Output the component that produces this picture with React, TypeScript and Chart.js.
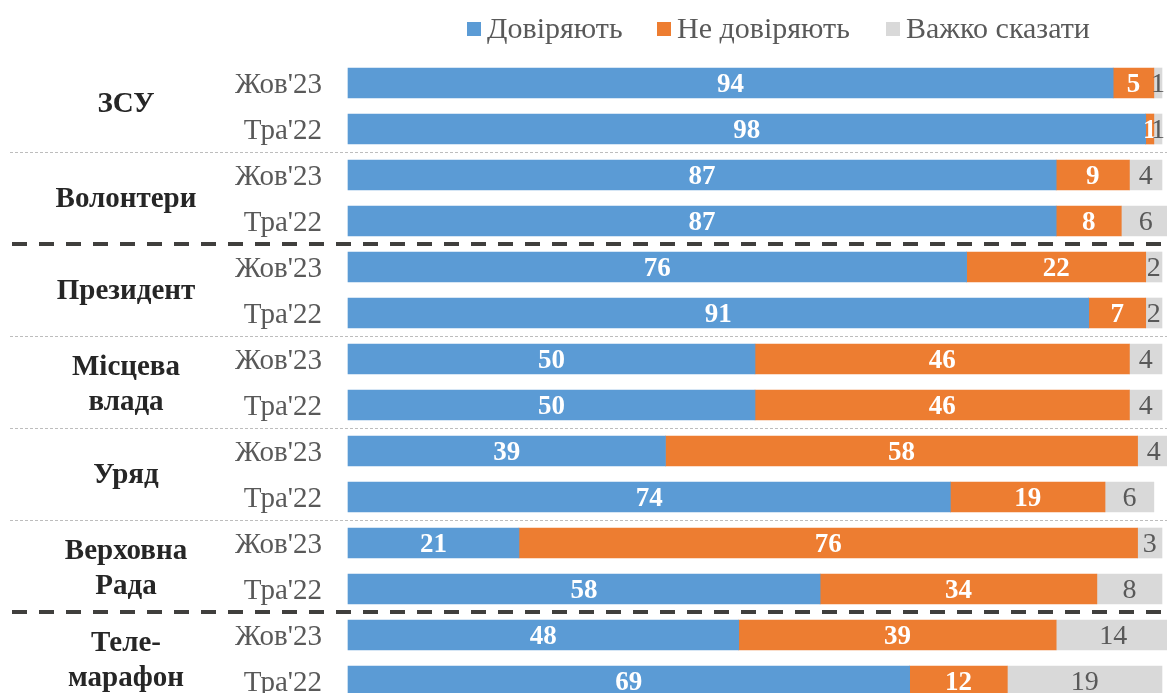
import React, { useEffect, useRef } from "react";
import { Chart, registerables } from "chart.js";

Chart.register(...registerables);

const groups = ["ЗСУ", "Волонтери", "Президент", "Місцева\nвлада", "Уряд", "Верховна\nРада", "Теле-\nмарафон"];
const waves = ["Жов'23", "Тра'22"];
const rowLabels = groups.flatMap((g) => waves.map((w) => `${g.replace("\n", " ")} ${w}`));

const trust = [94, 98, 87, 87, 76, 91, 50, 50, 39, 74, 21, 58, 48, 69];
const distrust = [5, 1, 9, 8, 22, 7, 46, 46, 58, 19, 76, 34, 39, 12];
const hardToSay = [1, 1, 4, 6, 2, 2, 4, 4, 4, 6, 3, 8, 14, 19];

const seriesNames = ["Довіряють", "Не довіряють", "Важко сказати"];
const seriesColors = ["#5B9BD5", "#ED7D31", "#D9D9D9"];
const labelColors = ["#ffffff", "#ffffff", "#595959"];

// group boundaries after these group indices: thick dashed vs thin dotted
const thickAfter = [1, 5];

const SERIF = "'Liberation Serif', 'Times New Roman', serif";

const overlayPlugin = {
  id: "overlay",
  beforeDatasetsDraw(chart: any) {
    const { ctx, scales } = chart;
    const y = scales.y;
    ctx.save();
    for (let g = 0; g < groups.length - 1; g++) {
      const a = y.getPixelForValue(g * 2 + 1);
      const b = y.getPixelForValue(g * 2 + 2);
      const yy = (a + b) / 2;
      ctx.beginPath();
      if (thickAfter.includes(g)) {
        ctx.setLineDash([15, 12]);
        ctx.lineWidth = 4;
        ctx.strokeStyle = "#403f3d";
        ctx.moveTo(12, yy);
        ctx.lineTo(chart.width, yy);
      } else {
        ctx.setLineDash([3, 2]);
        ctx.lineWidth = 1;
        ctx.strokeStyle = "#bdbdbd";
        ctx.moveTo(10, yy + 0.5);
        ctx.lineTo(chart.width, yy + 0.5);
      }
      ctx.stroke();
    }
    ctx.restore();
  },
  afterDatasetsDraw(chart: any) {
    const { ctx, scales } = chart;
    const y = scales.y;
    ctx.save();
    // data labels
    chart.data.datasets.forEach((ds: any, di: number) => {
      const meta = chart.getDatasetMeta(di);
      meta.data.forEach((el: any, i: number) => {
        const v = ds.data[i];
        const cx = (el.x + el.base) / 2;
        ctx.font = di < 2 ? `bold 27px ${SERIF}` : `28px ${SERIF}`;
        ctx.fillStyle = labelColors[di];
        ctx.textAlign = "center";
        ctx.textBaseline = "middle";
        ctx.fillText(String(v), cx, el.y + 2);
      });
    });
    // wave labels
    ctx.font = `29px ${SERIF}`;
    ctx.fillStyle = "#595959";
    ctx.textAlign = "right";
    ctx.textBaseline = "middle";
    for (let i = 0; i < rowLabels.length; i++) {
      ctx.fillText(waves[i % 2], 322, y.getPixelForValue(i) + 2);
    }
    // group labels
    ctx.font = `bold 29px ${SERIF}`;
    ctx.fillStyle = "#262626";
    ctx.textAlign = "center";
    groups.forEach((g, gi) => {
      const mid = (y.getPixelForValue(gi * 2) + y.getPixelForValue(gi * 2 + 1)) / 2;
      const lines = g.split("\n");
      if (lines.length === 1) {
        ctx.fillText(lines[0], 126, mid + (gi === 0 ? -1 : 2));
      } else {
        ctx.fillText(lines[0], 126, mid - 14);
        ctx.fillText(lines[1], 126, mid + 21);
      }
    });
    // legend
    ctx.font = `30px ${SERIF}`;
    ctx.textAlign = "left";
    const legendX = [467, 657, 886];
    seriesNames.forEach((n, i) => {
      ctx.fillStyle = seriesColors[i];
      ctx.fillRect(legendX[i], 22, 14, 14);
      ctx.fillStyle = "#595959";
      ctx.fillText(n, legendX[i] + 20, 30);
    });
    ctx.restore();
  },
};

export default function App() {
  const ref = useRef<HTMLCanvasElement>(null);
  useEffect(() => {
    document.body.style.margin = "0";
    const values = [trust, distrust, hardToSay];
    const chart = new Chart(ref.current!, {
      type: "bar",
      data: {
        labels: rowLabels,
        datasets: seriesNames.map((n, i) => ({
          label: n,
          data: values[i],
          backgroundColor: seriesColors[i],
          barThickness: 30,
          borderWidth: 0,
          clip: false as any,
        })),
      },
      options: {
        indexAxis: "y",
        animation: false,
        responsive: true,
        maintainAspectRatio: false,
        layout: { padding: { left: 348, right: 5, top: 83, bottom: 12 } },
        plugins: { legend: { display: false }, tooltip: { enabled: false } },
        scales: {
          x: { stacked: true, min: 0, max: 100, display: false },
          y: { stacked: true, display: false, offset: false },
        },
      },
      plugins: [overlayPlugin],
    });
    return () => chart.destroy();
  }, []);
  return (
    <div style={{ position: "fixed", left: 0, top: 0, width: 1167, height: 693, background: "#fff" }}>
      <canvas ref={ref} />
    </div>
  );
}
